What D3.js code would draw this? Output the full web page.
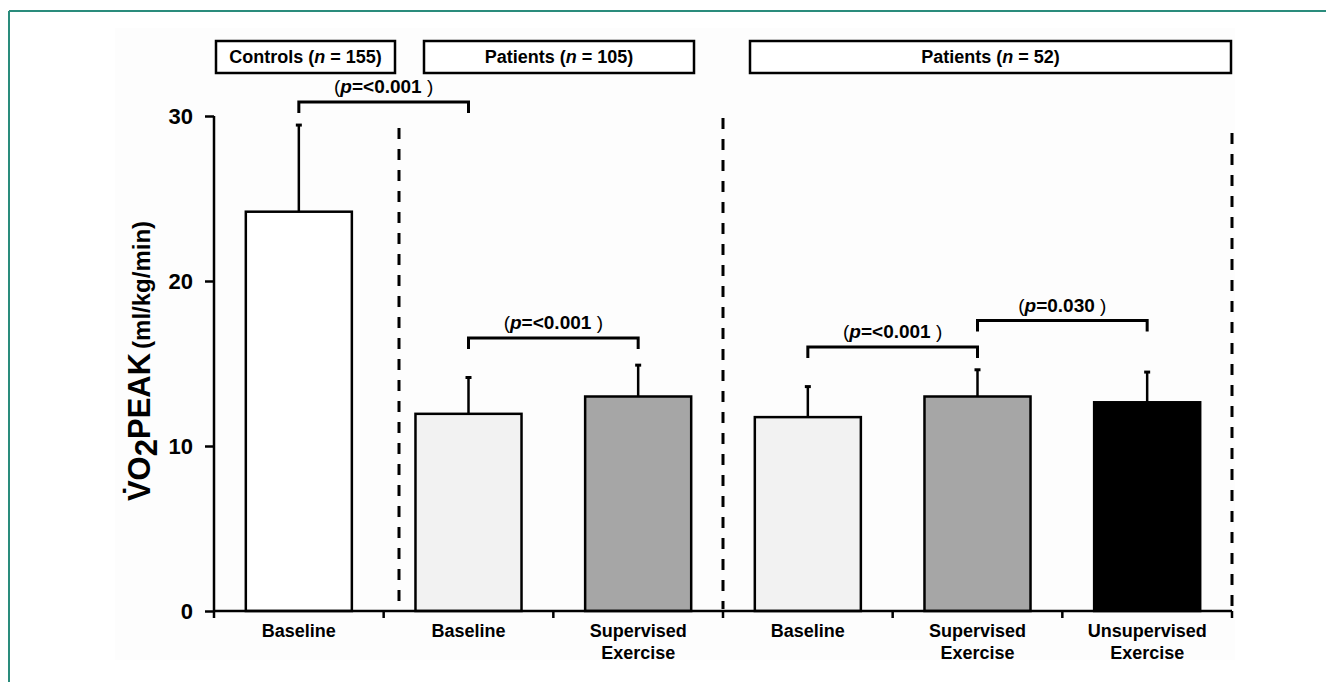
<!DOCTYPE html>
<html>
<head>
<meta charset="utf-8">
<script src="https://cdn.jsdelivr.net/npm/d3@7/dist/d3.min.js"></script>
<style>
  body { margin: 0; background: #fff; }
  svg { display: block; font-family: "Liberation Sans", Arial, sans-serif; }
</style>
</head>
<body>
<div class="canvas"></div>
<script>
// values
const categories = ["Baseline", "Baseline", "Supervised Exercise", "Baseline", "Supervised Exercise", "Unsupervised Exercise"]
const means = [24.2, 11.95, 13.0, 11.75, 13.0, 12.65]
const sds = [5.25, 2.2, 1.9, 1.85, 1.62, 1.83]
const fills = ["#ffffff", "#f2f2f2", "#a6a6a6", "#f2f2f2", "#a6a6a6", "#000000"]
const yTicks = [0, 10, 20, 30]
const groupNames = ["Controls", "Patients", "Patients"]
const groupNs = [155, 105, 52]
const bracketPairs = [[0, 1], [1, 2], [3, 4], [4, 5]]
const bracketLevels = [30.85, 16.55, 16.0, 17.6]
const bracketP = ["<0.001", "<0.001", "<0.001", "0.030"]

const W = 1326, H = 682
const svg = d3.select(".canvas").append("svg").attr("width", W).attr("height", H)

// frame + faint paper
svg.append("rect").attr("x", 115).attr("y", 28).attr("width", 1120).attr("height", 632).attr("fill", "#fdfdfd")
svg.append("line").attr("x1", 9).attr("x2", W).attr("y1", 11).attr("y2", 11).attr("stroke", "#2a8c7c").attr("stroke-width", 2)
svg.append("line").attr("x1", 9).attr("x2", 9).attr("y1", 11).attr("y2", H).attr("stroke", "#2a8c7c").attr("stroke-width", 2)

const x = d3.scaleBand().domain(d3.range(categories.length)).range([214, 1232])
  .paddingInner(0.375).paddingOuter(0.1875)
const y = d3.scaleLinear().domain([0, 30]).range([611, 116])
const cx = i => x(i) + x.bandwidth() / 2
const edge = i => x.range()[0] + i * x.step()

// dashed dividers
const dividers = [[399, 128], [723, 118], [1232, 133]]
svg.selectAll("line.div").data(dividers).enter().append("line")
  .attr("x1", d => d[0]).attr("x2", d => d[0]).attr("y1", d => d[1]).attr("y2", 609)
  .attr("stroke", "#000").attr("stroke-width", 3).attr("stroke-dasharray", "11,10")

// bars
svg.selectAll("rect.bar").data(means).enter().append("rect")
  .attr("x", (d, i) => x(i)).attr("width", x.bandwidth())
  .attr("y", d => y(d)).attr("height", d => y(0) - y(d))
  .attr("fill", (d, i) => fills[i]).attr("stroke", "#000").attr("stroke-width", 2.5)

// error bars
const err = svg.append("g")
means.forEach((m, i) => {
  err.append("line").attr("x1", cx(i)).attr("x2", cx(i)).attr("y1", y(m)).attr("y2", y(m + sds[i]))
    .attr("stroke", "#000").attr("stroke-width", 2.5)
  err.append("line").attr("x1", cx(i) - 3).attr("x2", cx(i) + 3).attr("y1", y(m + sds[i])).attr("y2", y(m + sds[i]))
    .attr("stroke", "#000").attr("stroke-width", 3)
})

// y axis
const yAxis = svg.append("g").attr("transform", "translate(214,0)")
  .call(d3.axisLeft(y).tickValues(yTicks).tickSize(9).tickSizeOuter(0).tickPadding(12))
yAxis.select(".domain").attr("stroke-width", 2.5).attr("d", `M0,${y(30)}V${y(0)}`)
yAxis.selectAll(".tick line").attr("stroke-width", 2.5)
yAxis.selectAll(".tick text").attr("font-size", 22).attr("font-weight", "bold")
  .attr("font-family", "Liberation Sans, Arial, sans-serif").attr("fill", "#000")

// x axis
svg.append("line").attr("x1", edge(0)).attr("x2", edge(categories.length)).attr("y1", y(0)).attr("y2", y(0))
  .attr("stroke", "#000").attr("stroke-width", 2.5)
svg.selectAll("line.xt").data(d3.range(categories.length + 1)).enter().append("line")
  .attr("x1", edge).attr("x2", edge).attr("y1", y(0)).attr("y2", y(0) + 7)
  .attr("stroke", "#000").attr("stroke-width", 2.5)
const xl = svg.selectAll("text.xl").data(categories).enter().append("text")
  .attr("text-anchor", "middle").attr("font-size", 18).attr("font-weight", "bold")
  .attr("transform", (d, i) => `translate(${cx(i)},${y(0) + 26})`)
xl.each(function(d) {
  d.split(" ").forEach((w, k) => {
    d3.select(this).append("tspan").attr("x", 0).attr("y", k * 22).text(w)
  })
})

// y label
const yl = svg.append("text").attr("transform", "translate(150,361) rotate(-90)")
  .attr("text-anchor", "middle").attr("font-weight", "bold")
yl.append("tspan").attr("font-size", 31).text("V\u0307O")
yl.append("tspan").attr("font-size", 31).attr("dy", 7).text("2")
yl.append("tspan").attr("font-size", 31).attr("dy", -7).text("PEAK")
yl.append("tspan").attr("font-size", 24).attr("dx", 4).text("(ml/kg/min)")

// group header boxes
const boxes = [[216, 395], [424, 694], [750, 1231]]
boxes.forEach((b, i) => {
  svg.append("rect").attr("x", b[0]).attr("y", 41).attr("width", b[1] - b[0]).attr("height", 32)
    .attr("fill", "#fff").attr("stroke", "#000").attr("stroke-width", 2.5)
  const t = svg.append("text").attr("x", (b[0] + b[1]) / 2).attr("y", 63)
    .attr("text-anchor", "middle").attr("font-size", 18).attr("font-weight", "bold")
  t.append("tspan").text(groupNames[i] + " (")
  t.append("tspan").attr("font-style", "italic").text("n")
  t.append("tspan").text(" = " + groupNs[i] + ")")
})

// significance brackets
bracketPairs.forEach((p, i) => {
  const yy = y(bracketLevels[i])
  const a = cx(p[0]), b = cx(p[1])
  svg.append("path").attr("d", `M${a},${yy + 11}V${yy}H${b}V${yy + 11}`)
    .attr("fill", "none").attr("stroke", "#000").attr("stroke-width", 3)
  const t = svg.append("text").attr("x", (a + b) / 2).attr("y", yy - 9)
    .attr("text-anchor", "middle").attr("font-size", 19).attr("font-weight", "bold")
  t.append("tspan").attr("font-weight", "normal").text("(")
  t.append("tspan").attr("font-style", "italic").text("p")
  t.append("tspan").text("=" + bracketP[i])
  t.append("tspan").attr("font-weight", "normal").text(" )")
})
</script>
</body>
</html>
